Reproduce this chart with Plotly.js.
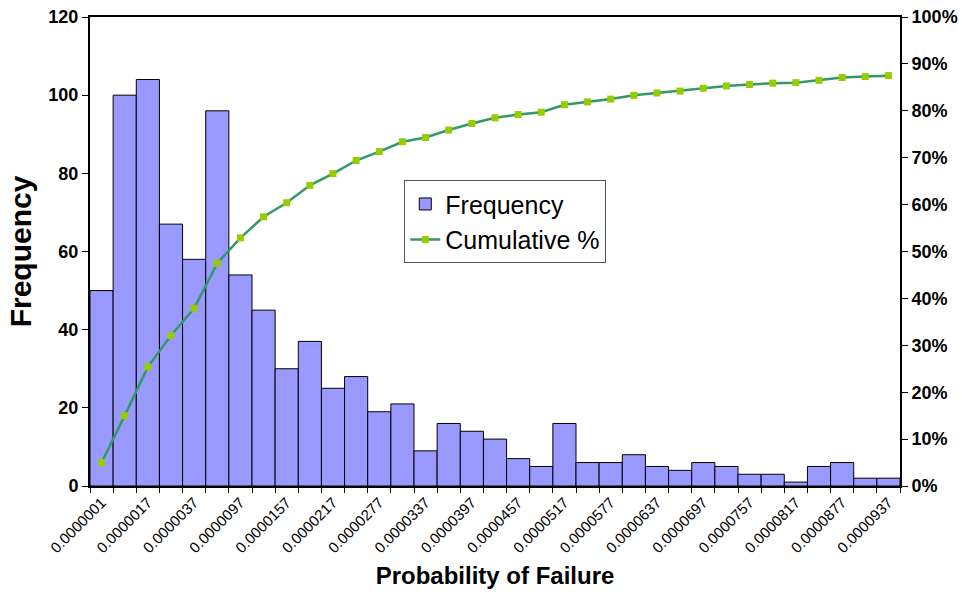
<!DOCTYPE html>
<html>
<head>
<meta charset="utf-8">
<script src="https://cdn.plot.ly/plotly-3.0.1.min.js"></script>
<style>html,body{margin:0;padding:0;background:#fff;}#chart{width:962px;height:592px;}</style>
</head>
<body>
<div id="chart"></div>
<script>
var categories = ["0.0000001","0.0000007","0.0000017","0.0000027","0.0000037","0.0000067","0.0000097","0.0000127",
  "0.0000157","0.0000187","0.0000217","0.0000247","0.0000277","0.0000307","0.0000337","0.0000367",
  "0.0000397","0.0000427","0.0000457","0.0000487","0.0000517","0.0000547","0.0000577","0.0000607",
  "0.0000637","0.0000667","0.0000697","0.0000727","0.0000757","0.0000787","0.0000817","0.0000847",
  "0.0000877","0.0000907","0.0000937"];
var frequency = [50,100,104,67,58,96,54,45,30,37,25,28,19,21,9,16,14,12,7,5,16,6,6,8,5,4,6,5,3,3,1,5,6,2,2];
var cumulative = [0.050,0.150,0.254,0.321,0.379,0.475,0.529,0.574,0.604,0.641,0.666,0.694,0.713,0.734,0.743,0.759,
  0.773,0.785,0.792,0.797,0.813,0.819,0.825,0.833,0.838,0.842,0.848,0.853,0.856,0.859,0.860,0.865,0.871,0.873,0.875];
var tickLabels = categories.map(function(c,i){ return i % 2 === 0 ? c : ""; });

var font = "Liberation Sans, Arial, sans-serif";
var traces = [
  {type:"bar", name:"Frequency", x:categories, y:frequency,
   marker:{color:"#9999FF", line:{color:"#000000", width:1}}, width:1, yaxis:"y"},
  {type:"scatter", mode:"lines+markers", name:"Cumulative %", x:categories, y:cumulative, yaxis:"y2",
   line:{color:"#339966", width:2.5}, marker:{symbol:"square", size:7, color:"#99CC00"}}
];
var layout = {
  width:962, height:592,
  margin:{l:90, r:62, t:17, b:106},
  paper_bgcolor:"#fff", plot_bgcolor:"#fff",
  bargap:0,
  showlegend:true,
  legend:{x:0.388, y:0.652, xanchor:"left", yanchor:"top", bgcolor:"#fff",
    bordercolor:"#555", borderwidth:1, font:{family:font, size:25, color:"#000"},
    itemwidth:30, tracegroupgap:0},
  xaxis:{type:"category", range:[-0.5, 34.5], autorange:false, tickmode:"array", tickvals:categories, ticktext:tickLabels,
    tickson:"boundaries", ticks:"outside", ticklen:5, tickcolor:"#000", tickangle:-45,
    tickfont:{family:font, size:15, color:"#000"},
    showline:true, linecolor:"#000", linewidth:2, mirror:true, showgrid:false, zeroline:false,
    title:{text:"Probability of Failure", font:{family:font, size:24, color:"#000", weight:"bold"}, standoff:12}},
  yaxis:{range:[0,120], dtick:20, ticks:"outside", ticklen:6, tickcolor:"#000",
    tickfont:{family:font, size:18, color:"#000", weight:"bold"},
    showline:true, linecolor:"#000", linewidth:2, showgrid:false, zeroline:false,
    title:{text:"Frequency", font:{family:font, size:30, color:"#000", weight:"bold"}, standoff:8}},
  yaxis2:{range:[0,1], dtick:0.1, tickformat:".0%", overlaying:"y", side:"right",
    ticks:"outside", ticklen:6, tickcolor:"#000",
    tickfont:{family:font, size:18, color:"#000", weight:"bold"},
    showline:true, linecolor:"#000", linewidth:2, showgrid:false, zeroline:false}
};
Plotly.newPlot("chart", traces, layout, {staticPlot:true});
</script>
</body>
</html>
